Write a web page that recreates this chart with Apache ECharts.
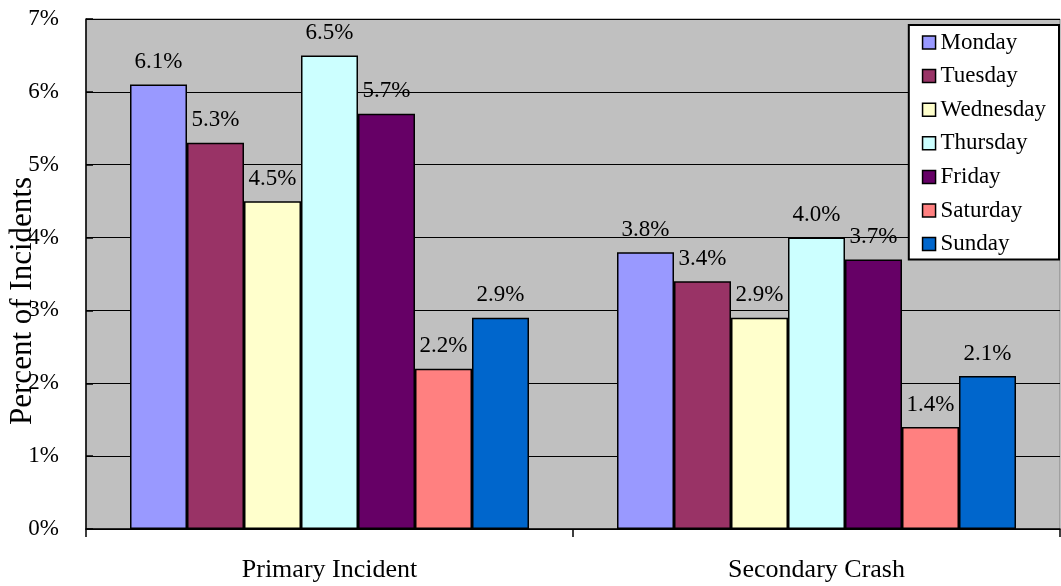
<!DOCTYPE html>
<html>
<head>
<meta charset="utf-8">
<script src="https://cdn.jsdelivr.net/npm/echarts@6/dist/echarts.min.js"></script>
<style>
  html, body { margin: 0; padding: 0; background: #ffffff; }
  #chart { width: 1061px; height: 586px; }
</style>
</head>
<body>
<div id="chart"></div>
<script>
// Share of incidents by day of week, in percent
const categories = ['Primary Incident', 'Secondary Crash'];
const days = ['Monday', 'Tuesday', 'Wednesday', 'Thursday', 'Friday', 'Saturday', 'Sunday'];
const monday    = [6.1, 3.8];
const tuesday   = [5.3, 3.4];
const wednesday = [4.5, 2.9];
const thursday  = [6.5, 4.0];
const friday    = [5.7, 3.7];
const saturday  = [2.2, 1.4];
const sunday    = [2.9, 2.1];
const yTicks = [0, 1, 2, 3, 4, 5, 6, 7];

const dayValues = [monday, tuesday, wednesday, thursday, friday, saturday, sunday];
const dayColors = ['#9999FF', '#993366', '#FFFFCC', '#CCFFFF', '#660066', '#FF8080', '#0066CC'];
const FONT = '"Liberation Serif", "Times New Roman", serif';

const chart = echarts.init(document.getElementById('chart'), null, { renderer: 'canvas' });

const series = days.map((name, i) => ({
  name: name,
  type: 'bar',
  data: dayValues[i],
  barWidth: 57,
  barGap: '0%',
  itemStyle: { color: dayColors[i], borderColor: '#000000', borderWidth: 1.5 },
  label: {
    show: true,
    position: 'top',
    distance: 11,
    color: '#000000',
    fontFamily: FONT,
    fontSize: 23,
    formatter: p => p.value.toFixed(1) + '%'
  },
  emphasis: { disabled: true }
}));

chart.setOption({
  animation: false,
  backgroundColor: '#ffffff',
  textStyle: { fontFamily: FONT },
  grid: {
    left: 86, right: 1, top: 19, bottom: 57,
    containLabel: false,
    outerBoundsMode: 'none',
    show: true,
    backgroundColor: '#C0C0C0',
    borderColor: '#808080',
    borderWidth: 1
  },
  legend: {
    orient: 'vertical',
    right: 2,
    top: 25,
    data: days,
    backgroundColor: '#ffffff',
    borderColor: '#000000',
    borderWidth: 2,
    borderRadius: 0,
    padding: [6, 13, 4, 13],
    itemWidth: 13,
    itemHeight: 13,
    itemGap: 10.6,
    icon: 'rect',
    itemStyle: { borderColor: '#000000', borderWidth: 1.5 },
    textStyle: { fontFamily: FONT, fontSize: 23, color: '#000000' }
  },
  xAxis: {
    type: 'category',
    data: categories,
    axisLine: { lineStyle: { color: '#000000', width: 1.5 } },
    axisTick: { show: true, length: 8, lineStyle: { color: '#000000', width: 1.5 } },
    axisLabel: { color: '#000000', fontFamily: FONT, fontSize: 26, margin: 28 }
  },
  yAxis: {
    type: 'value',
    min: yTicks[0],
    max: yTicks[yTicks.length - 1],
    interval: 1,
    name: 'Percent of Incidents',
    nameLocation: 'middle',
    nameGap: 48,
    nameMoveOverlap: false,
    nameTextStyle: { color: '#000000', fontFamily: FONT, fontSize: 31, padding: [0, 54, 0, 0] },
    axisLine: { show: true, lineStyle: { color: '#000000', width: 1.5 } },
    axisTick: { show: true, inside: true, length: 7, lineStyle: { color: '#000000', width: 1.5 } },
    axisLabel: { color: '#000000', fontFamily: FONT, fontSize: 23, margin: 27, formatter: '{value}%' },
    splitLine: { show: true, lineStyle: { color: '#000000', width: 1.2 } }
  },
  series: series
});
</script>
</body>
</html>
